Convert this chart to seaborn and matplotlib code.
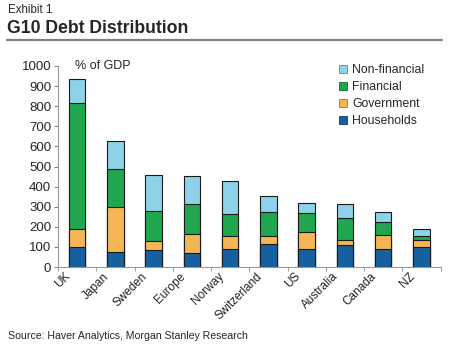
import numpy as np
import pandas as pd
import matplotlib
matplotlib.use("Agg")
import matplotlib.pyplot as plt
import matplotlib.transforms as mtransforms
from matplotlib.patches import Patch
import seaborn as sns

countries = ["UK", "Japan", "Sweden", "Europe", "Norway", "Switzerland",
             "US", "Australia", "Canada", "NZ"]
households = [100, 75, 83, 70, 88, 113, 88, 108, 88, 98]
government = [88, 224, 47, 96, 66, 41, 85, 25, 70, 35]
financial = [626, 188, 147, 146, 110, 120, 98, 111, 65, 21]
non_financial = [120, 139, 180, 140, 163, 80, 48, 68, 51, 34]

series = ["Non-financial", "Financial", "Government", "Households"]
colors = {"Non-financial": "#8dd2e8", "Financial": "#1fa64f",
          "Government": "#f5b656", "Households": "#17609f"}
edges = {"Non-financial": "#4a8ea6", "Financial": "#0f6a30",
         "Government": "#a8742a", "Households": "#0c3a66"}

df = pd.DataFrame({"country": countries, "Households": households,
                   "Government": government, "Financial": financial,
                   "Non-financial": non_financial})
# cumulative tops, drawn from the tallest down
df["c_Households"] = df["Households"]
df["c_Government"] = df["c_Households"] + df["Government"]
df["c_Financial"] = df["c_Government"] + df["Financial"]
df["c_Non-financial"] = df["c_Financial"] + df["Non-financial"]

sns.set_style("white")
plt.rcParams["font.family"] = ["Liberation Sans", "DejaVu Sans"]

fig = plt.figure(figsize=(4.5, 3.51), dpi=100)
ax = fig.add_axes([0.129, 0.239, 0.85, 0.573])

for s in series:
    sns.barplot(data=df, x="country", y="c_" + s, color=colors[s],
                width=0.43, edgecolor="#1a1a1a", linewidth=0.8,
                saturation=1, ax=ax)

ax.set_xlim(-0.5, len(countries) - 0.5)
ax.set_ylim(0, 1000)
ax.set_yticks(range(0, 1001, 100))
ax.set_xlabel("")
ax.set_ylabel("")
ax.tick_params(axis="y", labelsize=9.5, length=3, direction="out",
               color="#888888", pad=2, left=True)
ax.set_xticks(range(len(countries)))
ax.set_xticklabels(countries, rotation=45, ha="right", va="center",
                   rotation_mode="anchor", fontsize=8.5, color="#222222")
ax.tick_params(axis="x", length=0, pad=5.5)
shift = mtransforms.ScaledTranslation(-0.085, 0, fig.dpi_scale_trans)
for lab in ax.get_xticklabels():
    lab.set_transform(lab.get_transform() + shift)
ax.set_xticks(np.arange(-0.5, len(countries)), minor=True)
ax.tick_params(axis="x", which="minor", length=3, direction="out",
               color="#888888", bottom=True)
sns.despine(ax=ax)
for sp in ["left", "bottom"]:
    ax.spines[sp].set_color("#999999")
    ax.spines[sp].set_linewidth(0.8)

ax.text(0.045, 1.0, "% of GDP", transform=ax.transAxes, fontsize=9,
        va="center", ha="left")

handles = [Patch(facecolor=colors[s], edgecolor=edges[s], linewidth=0.6,
                 label=s) for s in series]
ax.legend(handles=handles, loc="upper right", bbox_to_anchor=(0.98, 1.05),
          frameon=False, fontsize=8.8, handlelength=0.7, handleheight=0.7,
          handletextpad=0.4, labelspacing=0.4, borderaxespad=0.3)

fig.text(0.018, 0.972, "Exhibit 1", fontsize=8.3, va="center")
fig.text(0.016, 0.92, "G10 Debt Distribution", fontsize=12.7,
         fontweight="bold", va="center")
fig.add_artist(plt.Line2D([0.016, 0.982], [0.886, 0.886],
                          color="#808080", linewidth=1.6,
                          transform=fig.transFigure))
fig.text(0.018, 0.043, "Source: Haver Analytics, Morgan Stanley Research",
         fontsize=7.6, va="center")

fig.savefig("out.png", dpi=100)
